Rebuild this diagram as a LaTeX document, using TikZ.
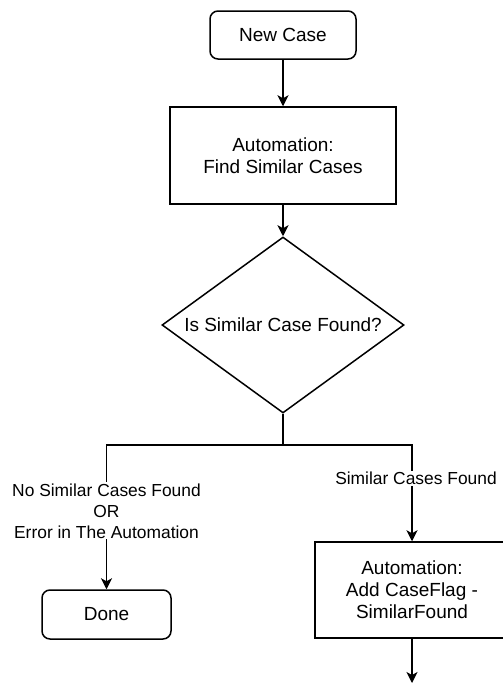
\documentclass[tikz,border=0pt]{standalone}
\usepackage{fontspec}
\setmainfont{Liberation Sans}
\usetikzlibrary{shapes.geometric,arrows.meta}

\begin{document}
\begin{tikzpicture}[
  x=1pt, y=-1pt,
  base/.style={draw=black, line width=1.5pt, align=center, inner sep=0pt,
    text=black, font=\fontsize{19}{22}\selectfont},
  term/.style={base, rectangle, rounded corners=8pt},
  proc/.style={base, rectangle},
  decision/.style={base, diamond, shape aspect=1.375,
    minimum width=242pt, minimum height=176pt},
  flow/.style={line width=1.5pt, -{Stealth[length=11pt,width=11pt,inset=3pt]}},
  link/.style={line width=1.5pt},
  lbl/.style={fill=white, align=center, inner sep=1pt, text=black,
    font=\fontsize{17.4}{21}\selectfont}
]
\useasboundingbox (0,0) rectangle (503,686);
\clip (0,0) rectangle (503,686);

% boxes
\node[term, minimum width=146pt, minimum height=48pt] (new) at (283,35) {New Case};
\node[proc, minimum width=226pt, minimum height=97pt] (find) at (283,155.5) {Automation:\\Find Similar Cases};
\node[decision] (q) at (283,325) {Is Similar Case Found?};
\node[term, minimum width=129pt, minimum height=49pt] (done) at (106.5,614.5) {Done};
\node[proc, minimum width=194pt, minimum height=96pt] (flag) at (412,590) {Automation:\\Add CaseFlag -\\SimilarFound};
\coordinate (split) at (283,445);
\coordinate (end) at (412,683);

% connectors
\draw[flow] (new) -- (find);
\draw[flow] (find) -- (q);
\draw[link] (q.south) -- (split);
\draw[flow] (split) -| node[lbl, pos=0.728] {No Similar Cases Found\\OR\\Error in The Automation} (done);
\draw[flow] (split) -| node[lbl, pos=0.675, xshift=4pt] {Similar Cases Found} (flag);
\draw[flow] (flag) -- (end);
\end{tikzpicture}
\end{document}
